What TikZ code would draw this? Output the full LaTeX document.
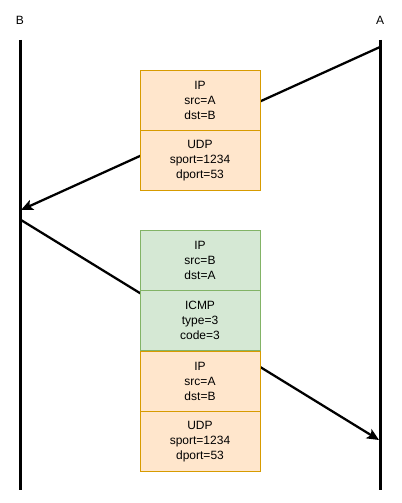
\documentclass[tikz,border=0pt]{standalone}
\usepackage{fontspec}
\setmainfont{Liberation Sans}
\usetikzlibrary{arrows.meta,positioning}
\definecolor{orfill}{HTML}{FFE6CC}
\definecolor{ordraw}{HTML}{D79B00}
\definecolor{grfill}{HTML}{D5E8D4}
\definecolor{grdraw}{HTML}{82B366}
\tikzset{
  pkt/.style={draw,minimum width=90pt,minimum height=45pt,inner sep=0pt,
    align=center,font=\fontsize{9}{11.25}\selectfont},
  udpkt/.style={pkt,fill=orfill,draw=ordraw},
  icpkt/.style={pkt,fill=grfill,draw=grdraw},
  life/.style={line width=2.25pt},
  msg/.style={line width=1.7pt,-{Stealth[length=9pt,width=8pt,inset=2pt]}}
}
\begin{document}
\begin{tikzpicture}[x=0.75pt,y=-0.75pt]
\useasboundingbox (0,0) rectangle (401,503);
\node[font=\fontsize{9}{10}\selectfont] (hb) at (20,20) {B};
\node[font=\fontsize{9}{10}\selectfont] (ha) at (380,20) {A};
\coordinate (btop) at (20,40);
\coordinate (bbot) at (20,490);
\coordinate (atop) at (380,40);
\coordinate (abot) at (380,490);
\draw[life] (btop) -- (bbot);
\draw[life] (atop) -- (abot);
% messages
\coordinate (q1) at (380,47);
\coordinate (r1) at (21,210);
\coordinate (q2) at (21,220);
\coordinate (r2) at (379,440);
\draw[msg] (q1) -- (r1);
\draw[msg] (q2) -- (r2);
% packets
\node[udpkt] (ip1) at (200,100) {IP\\src=A\\dst=B};
\node[udpkt,below=0pt of ip1] (udp1) {UDP\\sport=1234\\dport=53};
\node[icpkt] (ip2) at (200,260) {IP\\src=B\\dst=A};
\node[icpkt,below=0pt of ip2] (icmp) {ICMP\\type=3\\code=3};
\node[udpkt,below=0pt of icmp] (ip3) {IP\\src=A\\dst=B};
\node[udpkt,below=0pt of ip3] (udp2) {UDP\\sport=1234\\dport=53};
\end{tikzpicture}
\end{document}
